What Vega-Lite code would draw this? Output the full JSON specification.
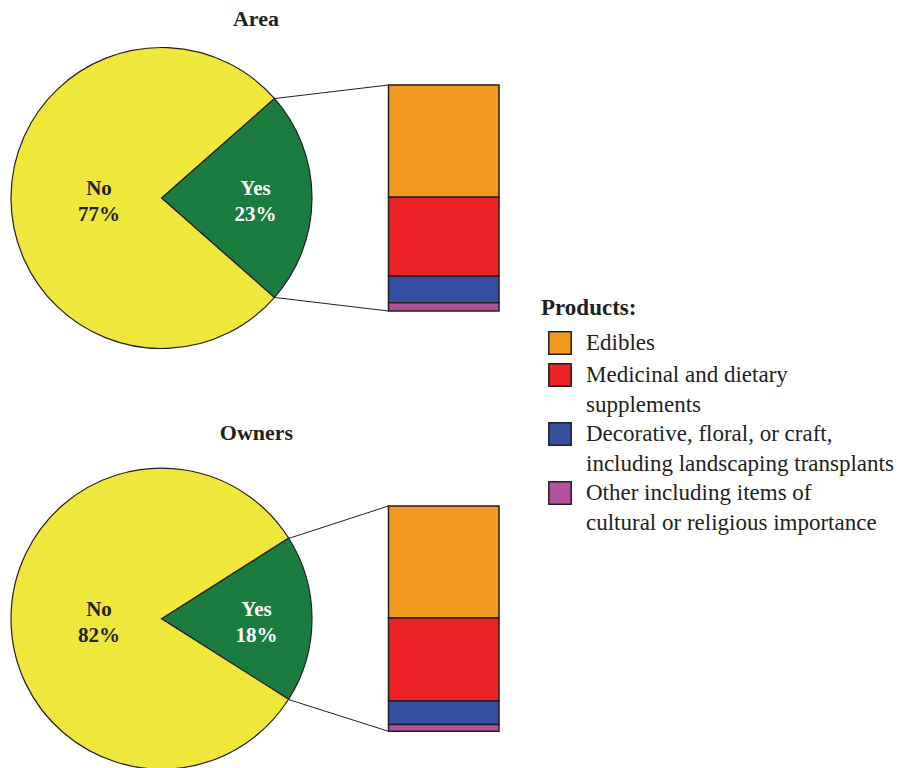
{
  "$schema": "https://vega.github.io/schema/vega-lite/v6.json",
  "width": 902,
  "height": 768,
  "autosize": {"type": "none"},
  "padding": 0,
  "background": "white",
  "config": {"view": {"stroke": null}, "font": "Liberation Serif"},
  "datasets": {
    "pie": [
      {"chart": "Area", "answer": "Yes", "share": 0.23},
      {"chart": "Area", "answer": "No", "share": 0.77},
      {"chart": "Owners", "answer": "Yes", "share": 0.18},
      {"chart": "Owners", "answer": "No", "share": 0.82}
    ],
    "bar": [
      {"chart": "Area", "product": "Edibles", "rank": 1, "pct": 49.7},
      {"chart": "Area", "product": "Medicinal and dietary supplements", "rank": 2, "pct": 34.9},
      {"chart": "Area", "product": "Decorative, floral, or craft, including landscaping transplants", "rank": 3, "pct": 11.7},
      {"chart": "Area", "product": "Other including items of cultural or religious importance", "rank": 4, "pct": 3.7},
      {"chart": "Owners", "product": "Edibles", "rank": 1, "pct": 49.7},
      {"chart": "Owners", "product": "Medicinal and dietary supplements", "rank": 2, "pct": 36.8},
      {"chart": "Owners", "product": "Decorative, floral, or craft, including landscaping transplants", "rank": 3, "pct": 10.5},
      {"chart": "Owners", "product": "Other including items of cultural or religious importance", "rank": 4, "pct": 3.0}
    ]
  },
  "resolve": {"scale": {"y": "independent", "theta": "independent", "x": "shared", "color": "shared"}},
  "layer": [
    {
      "layer": [
        {
          "data": {"name": "pie"},
          "transform": [{"filter": "datum.chart == 'Area'"}],
          "mark": {"type": "arc", "radius": 150.5, "stroke": "#231f20", "strokeWidth": 1.2},
          "encoding": {
            "x": {"datum": 161.5, "type": "quantitative", "scale": {"domain": [0, 902], "range": [0, 902], "nice": false, "zero": false}, "axis": null},
            "y": {"datum": 50, "type": "quantitative", "scale": {"domain": [0, 100], "range": [311, 85], "nice": false, "zero": false}, "axis": null},
            "theta": {"field": "share", "type": "quantitative", "stack": true, "scale": {"domain": [0, 1], "range": [0.8482, 7.1314]}},
            "order": {"field": "answer", "sort": "descending"},
            "color": {"condition": {"test": "datum.answer == 'Yes'", "value": "#1A7C3F"}, "value": "#F0E73C"}
          }
        },
        {
          "data": {"name": "pie"},
          "transform": [{"filter": "datum.chart == 'Area'"}],
          "mark": {"type": "text", "radius": {"expr": "datum.answer == 'Yes' ? 94 : 62.5"}, "dy": -9, "fontSize": 21, "fontWeight": "bold", "font": "Liberation Serif", "baseline": "middle", "align": "center"},
          "encoding": {
            "x": {"datum": 161.5, "type": "quantitative", "scale": {"domain": [0, 902], "range": [0, 902], "nice": false, "zero": false}, "axis": null},
            "y": {"datum": 50, "type": "quantitative", "scale": {"domain": [0, 100], "range": [311, 85], "nice": false, "zero": false}, "axis": null},
            "theta": {"field": "share", "type": "quantitative", "stack": true, "scale": {"domain": [0, 1], "range": [0.8482, 7.1314]}},
            "order": {"field": "answer", "sort": "descending"},
            "text": {"field": "answer"},
            "color": {"condition": {"test": "datum.answer == 'Yes'", "value": "white"}, "value": "#231f20"}
          }
        },
        {
          "data": {"name": "pie"},
          "transform": [{"filter": "datum.chart == 'Area'"}],
          "mark": {"type": "text", "radius": {"expr": "datum.answer == 'Yes' ? 94 : 62.5"}, "dy": 17, "fontSize": 21, "fontWeight": "bold", "font": "Liberation Serif", "baseline": "middle", "align": "center"},
          "encoding": {
            "x": {"datum": 161.5, "type": "quantitative", "scale": {"domain": [0, 902], "range": [0, 902], "nice": false, "zero": false}, "axis": null},
            "y": {"datum": 50, "type": "quantitative", "scale": {"domain": [0, 100], "range": [311, 85], "nice": false, "zero": false}, "axis": null},
            "theta": {"field": "share", "type": "quantitative", "stack": true, "scale": {"domain": [0, 1], "range": [0.8482, 7.1314]}},
            "order": {"field": "answer", "sort": "descending"},
            "text": {"field": "share", "type": "quantitative", "format": ".0%"},
            "color": {"condition": {"test": "datum.answer == 'Yes'", "value": "white"}, "value": "#231f20"}
          }
        },
        {
          "data": {"name": "bar"},
          "transform": [
            {"filter": "datum.chart == 'Area'"},
            {"stack": "pct", "groupby": ["chart"], "sort": [{"field": "rank", "order": "descending"}], "as": ["pct_lo", "pct_hi"]}
          ],
          "mark": {"type": "bar", "stroke": "#231f20", "strokeWidth": 1.5},
          "encoding": {
            "x": {"datum": 388.5, "type": "quantitative", "scale": {"domain": [0, 902], "range": [0, 902], "nice": false, "zero": false}, "axis": null},
            "x2": {"datum": 499},
            "y": {"field": "pct_lo", "type": "quantitative", "scale": {"domain": [0, 100], "range": [311, 85], "nice": false, "zero": false}, "axis": null},
            "y2": {"field": "pct_hi"},
            "color": {
              "field": "product", "type": "nominal",
              "scale": {"domain": ["Edibles", "Medicinal and dietary supplements", "Decorative, floral, or craft, including landscaping transplants", "Other including items of cultural or religious importance"], "range": ["#F29A20", "#EC2227", "#334FA0", "#B3519E"]},
              "legend": {
                "orient": "none", "legendX": 541, "legendY": 297, "padding": 0,
                "title": "Products:", "titleFont": "Liberation Serif", "titleFontSize": 23, "titleFontWeight": "bold", "titleColor": "#231f20", "titlePadding": 11,
                "labelFont": "Liberation Serif", "labelFontSize": 23, "labelColor": "#231f20", "labelLimit": 600, "labelOffset": 14,
                "symbolType": "square", "symbolSize": 500, "symbolStrokeColor": "#231f20", "symbolStrokeWidth": 1.5, "symbolOffset": 7, "rowPadding": 2,
                "labelExpr": "datum.label == 'Medicinal and dietary supplements' ? ['Medicinal and dietary', 'supplements'] : datum.label == 'Decorative, floral, or craft, including landscaping transplants' ? ['Decorative, floral, or craft,', 'including landscaping transplants'] : datum.label == 'Other including items of cultural or religious importance' ? ['Other including items of', 'cultural or religious importance'] : datum.label",
                "encode": {"labels": {"update": {"lineHeight": {"value": 30}}}}
              }
            }
          }
        },
        {
          "data": {"name": "pie"},
          "transform": [{"filter": "datum.chart == 'Area' && datum.answer == 'Yes'"}],
          "mark": {"type": "rule", "stroke": "#231f20", "strokeWidth": 1},
          "encoding": {
            "x": {"datum": 274.4, "type": "quantitative", "scale": {"domain": [0, 902], "range": [0, 902], "nice": false, "zero": false}, "axis": null},
            "x2": {"datum": 388.5},
            "y": {"datum": 94.0, "type": "quantitative", "scale": {"domain": [0, 100], "range": [311, 85], "nice": false, "zero": false}, "axis": null},
            "y2": {"datum": 100}
          }
        },
        {
          "data": {"name": "pie"},
          "transform": [{"filter": "datum.chart == 'Area' && datum.answer == 'Yes'"}],
          "mark": {"type": "rule", "stroke": "#231f20", "strokeWidth": 1},
          "encoding": {
            "x": {"datum": 274.4, "type": "quantitative", "scale": {"domain": [0, 902], "range": [0, 902], "nice": false, "zero": false}, "axis": null},
            "x2": {"datum": 388.5},
            "y": {"datum": 6.0, "type": "quantitative", "scale": {"domain": [0, 100], "range": [311, 85], "nice": false, "zero": false}, "axis": null},
            "y2": {"datum": 0}
          }
        },
        {
          "data": {"name": "pie"},
          "transform": [{"filter": "datum.chart == 'Area' && datum.answer == 'Yes'"}],
          "mark": {"type": "text", "fontSize": 22, "fontWeight": "bold", "font": "Liberation Serif", "baseline": "middle", "align": "center", "color": "#231f20"},
          "encoding": {
            "x": {"datum": 256, "type": "quantitative", "scale": {"domain": [0, 902], "range": [0, 902], "nice": false, "zero": false}, "axis": null},
            "y": {"datum": 129.4, "type": "quantitative", "scale": {"domain": [0, 100], "range": [311, 85], "nice": false, "zero": false}, "axis": null},
            "text": {"field": "chart"}
          }
        }
      ]
    },
    {
      "layer": [
        {
          "data": {"name": "pie"},
          "transform": [{"filter": "datum.chart == 'Owners'"}],
          "mark": {"type": "arc", "radius": 150.5, "stroke": "#231f20", "strokeWidth": 1.2},
          "encoding": {
            "x": {"datum": 161.5, "type": "quantitative", "scale": {"domain": [0, 902], "range": [0, 902], "nice": false, "zero": false}, "axis": null},
            "y": {"datum": 50, "type": "quantitative", "scale": {"domain": [0, 100], "range": [731.3, 506], "nice": false, "zero": false}, "axis": null},
            "theta": {"field": "share", "type": "quantitative", "stack": true, "scale": {"domain": [0, 1], "range": [1.0053, 7.2885]}},
            "order": {"field": "answer", "sort": "descending"},
            "color": {"condition": {"test": "datum.answer == 'Yes'", "value": "#1A7C3F"}, "value": "#F0E73C"}
          }
        },
        {
          "data": {"name": "pie"},
          "transform": [{"filter": "datum.chart == 'Owners'"}],
          "mark": {"type": "text", "radius": {"expr": "datum.answer == 'Yes' ? 95 : 62.5"}, "dy": -9, "fontSize": 21, "fontWeight": "bold", "font": "Liberation Serif", "baseline": "middle", "align": "center"},
          "encoding": {
            "x": {"datum": 161.5, "type": "quantitative", "scale": {"domain": [0, 902], "range": [0, 902], "nice": false, "zero": false}, "axis": null},
            "y": {"datum": 50, "type": "quantitative", "scale": {"domain": [0, 100], "range": [731.3, 506], "nice": false, "zero": false}, "axis": null},
            "theta": {"field": "share", "type": "quantitative", "stack": true, "scale": {"domain": [0, 1], "range": [1.0053, 7.2885]}},
            "order": {"field": "answer", "sort": "descending"},
            "text": {"field": "answer"},
            "color": {"condition": {"test": "datum.answer == 'Yes'", "value": "white"}, "value": "#231f20"}
          }
        },
        {
          "data": {"name": "pie"},
          "transform": [{"filter": "datum.chart == 'Owners'"}],
          "mark": {"type": "text", "radius": {"expr": "datum.answer == 'Yes' ? 95 : 62.5"}, "dy": 17, "fontSize": 21, "fontWeight": "bold", "font": "Liberation Serif", "baseline": "middle", "align": "center"},
          "encoding": {
            "x": {"datum": 161.5, "type": "quantitative", "scale": {"domain": [0, 902], "range": [0, 902], "nice": false, "zero": false}, "axis": null},
            "y": {"datum": 50, "type": "quantitative", "scale": {"domain": [0, 100], "range": [731.3, 506], "nice": false, "zero": false}, "axis": null},
            "theta": {"field": "share", "type": "quantitative", "stack": true, "scale": {"domain": [0, 1], "range": [1.0053, 7.2885]}},
            "order": {"field": "answer", "sort": "descending"},
            "text": {"field": "share", "type": "quantitative", "format": ".0%"},
            "color": {"condition": {"test": "datum.answer == 'Yes'", "value": "white"}, "value": "#231f20"}
          }
        },
        {
          "data": {"name": "bar"},
          "transform": [
            {"filter": "datum.chart == 'Owners'"},
            {"stack": "pct", "groupby": ["chart"], "sort": [{"field": "rank", "order": "descending"}], "as": ["pct_lo", "pct_hi"]}
          ],
          "mark": {"type": "bar", "stroke": "#231f20", "strokeWidth": 1.5},
          "encoding": {
            "x": {"datum": 388.5, "type": "quantitative", "scale": {"domain": [0, 902], "range": [0, 902], "nice": false, "zero": false}, "axis": null},
            "x2": {"datum": 499},
            "y": {"field": "pct_lo", "type": "quantitative", "scale": {"domain": [0, 100], "range": [731.3, 506], "nice": false, "zero": false}, "axis": null},
            "y2": {"field": "pct_hi"},
            "color": {
              "field": "product", "type": "nominal",
              "scale": {"domain": ["Edibles", "Medicinal and dietary supplements", "Decorative, floral, or craft, including landscaping transplants", "Other including items of cultural or religious importance"], "range": ["#F29A20", "#EC2227", "#334FA0", "#B3519E"]}
            }
          }
        },
        {
          "data": {"name": "pie"},
          "transform": [{"filter": "datum.chart == 'Owners' && datum.answer == 'Yes'"}],
          "mark": {"type": "rule", "stroke": "#231f20", "strokeWidth": 1},
          "encoding": {
            "x": {"datum": 288.6, "type": "quantitative", "scale": {"domain": [0, 902], "range": [0, 902], "nice": false, "zero": false}, "axis": null},
            "x2": {"datum": 388.5},
            "y": {"datum": 85.6, "type": "quantitative", "scale": {"domain": [0, 100], "range": [731.3, 506], "nice": false, "zero": false}, "axis": null},
            "y2": {"datum": 100}
          }
        },
        {
          "data": {"name": "pie"},
          "transform": [{"filter": "datum.chart == 'Owners' && datum.answer == 'Yes'"}],
          "mark": {"type": "rule", "stroke": "#231f20", "strokeWidth": 1},
          "encoding": {
            "x": {"datum": 288.6, "type": "quantitative", "scale": {"domain": [0, 902], "range": [0, 902], "nice": false, "zero": false}, "axis": null},
            "x2": {"datum": 388.5},
            "y": {"datum": 14.1, "type": "quantitative", "scale": {"domain": [0, 100], "range": [731.3, 506], "nice": false, "zero": false}, "axis": null},
            "y2": {"datum": 0}
          }
        },
        {
          "data": {"name": "pie"},
          "transform": [{"filter": "datum.chart == 'Owners' && datum.answer == 'Yes'"}],
          "mark": {"type": "text", "fontSize": 22, "fontWeight": "bold", "font": "Liberation Serif", "baseline": "middle", "align": "center", "color": "#231f20"},
          "encoding": {
            "x": {"datum": 256.5, "type": "quantitative", "scale": {"domain": [0, 902], "range": [0, 902], "nice": false, "zero": false}, "axis": null},
            "y": {"datum": 132.4, "type": "quantitative", "scale": {"domain": [0, 100], "range": [731.3, 506], "nice": false, "zero": false}, "axis": null},
            "text": {"field": "chart"}
          }
        }
      ]
    }
  ]
}
